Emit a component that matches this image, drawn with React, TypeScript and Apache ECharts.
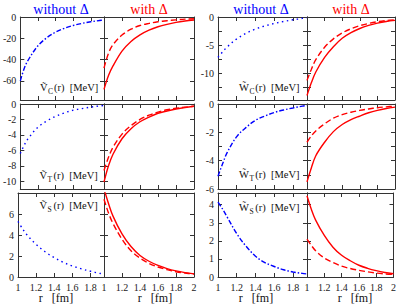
import React, { useEffect, useRef } from "react";
import * as echarts from "echarts";

// r grid [fm]
const rLeft = [1.0, 1.05, 1.1, 1.2, 1.3, 1.4, 1.5, 1.6, 1.7, 1.8, 1.9, 1.95];
const rRight = [1.0, 1.05, 1.1, 1.2, 1.3, 1.4, 1.5, 1.6, 1.7, 1.8, 1.9, 2.0];

// V potentials [MeV]
const VC_without = [-60, -47, -39, -27, -19.5, -14.2, -10.6, -8, -6, -4.5, -3.3, -2.8];
const VC_with_solid = [-68, -55, -46, -32, -23, -16.8, -12.4, -9.2, -6.9, -5.1, -3.8, -2.8];
const VC_with_dashed = [-48, -34, -26, -17, -11.5, -8, -6, -4.5, -3.5, -2.7, -2, -1.6];

const VT_without = [-6.4, -5.2, -4.3, -3.0, -2.2, -1.6, -1.15, -0.8, -0.6, -0.4, -0.25, -0.2];
const VT_with_solid = [-10.1, -8.0, -6.5, -4.5, -3.2, -2.3, -1.7, -1.2, -0.9, -0.65, -0.45, -0.3];
const VT_with_dashed = [-8.6, -6.9, -5.6, -3.9, -2.8, -2.0, -1.45, -1.05, -0.75, -0.55, -0.4, -0.3];

const VS_without = [5.3, 4.6, 4.0, 3.1, 2.4, 1.85, 1.4, 1.05, 0.78, 0.55, 0.35, 0.3];
const VS_with_solid = [8.4, 7.0, 5.8, 4.1, 2.9, 2.05, 1.5, 1.1, 0.8, 0.58, 0.42, 0.3];
const VS_with_dashed = [7.4, 6.1, 5.1, 3.6, 2.5, 1.8, 1.3, 0.95, 0.7, 0.5, 0.38, 0.28];

// W potentials [MeV]
const WC_without = [-7.2, -6.2, -5.3, -3.9, -2.9, -2.15, -1.6, -1.15, -0.8, -0.5, -0.25, -0.15];
const WC_with_solid = [-14, -11.7, -9.8, -7.2, -5.3, -3.8, -2.8, -2.05, -1.5, -1.1, -0.8, -0.6];
const WC_with_dashed = [-11.3, -9.3, -7.6, -5.4, -3.9, -2.85, -2.1, -1.55, -1.15, -0.85, -0.65, -0.5];

const WT_without = [-5.1, -4.2, -3.4, -2.3, -1.65, -1.15, -0.85, -0.6, -0.42, -0.28, -0.15, -0.11];
const WT_with_solid = [-5.5, -4.5, -3.65, -2.7, -1.95, -1.45, -1.1, -0.85, -0.62, -0.45, -0.32, -0.22];
const WT_with_dashed = [-2.7, -2.25, -1.9, -1.4, -1.0, -0.75, -0.58, -0.45, -0.35, -0.26, -0.2, -0.15];

const WS_without = [4.15, 3.75, 3.3, 2.4, 1.7, 1.15, 0.8, 0.58, 0.4, 0.28, 0.2, 0.17];
const WS_with_solid = [4.5, 3.75, 3.15, 2.3, 1.65, 1.2, 0.9, 0.65, 0.48, 0.35, 0.25, 0.18];
const WS_with_dashed = [2.1, 1.75, 1.45, 1.05, 0.8, 0.6, 0.47, 0.37, 0.29, 0.22, 0.17, 0.14];

// tick values
const xTicks = [1, 1.2, 1.4, 1.6, 1.8, 2];
const xLabelsLeft = [1, 1.2, 1.4, 1.6, 1.8];
const xLabelsRight = [1, 1.2, 1.4, 1.6, 1.8, 2];

const VC_ticks = [0, -20, -40, -60];
const VT_ticks = [0, -2, -4, -6, -8, -10];
const VS_ticks = [0, 2, 4, 6];
const WC_ticks = [0, -2.5, -5, -7.5, -10, -12.5];
const WC_labels = [0, -5, -10];
const WT_ticks = [0, -1, -2, -3, -4, -5, -6];
const WT_labels = [0, -2, -4, -6];
const WS_ticks = [0, 1, 2, 3, 4];

const FONT = "'Liberation Serif', 'DejaVu Serif', 'Times New Roman', serif";
const BLUE = "#0000ff";
const RED = "#ff0000";
const AX = "#333";

type Panel = {
  min: number;
  max: number;
  ticks: number[];
  labels: number[];
  without: number[];
  withSolid: number[];
  withDashed: number[];
  blueType: number[];
};

const DASHDOT = [5, 2, 1.5, 2];
const DOTTED = [1.5, 3.5];
const DASHED = [6, 3];

const groups: Panel[][] = [
  [
    { min: -78, max: 0, ticks: VC_ticks, labels: VC_ticks, without: VC_without, withSolid: VC_with_solid, withDashed: VC_with_dashed, blueType: DASHDOT },
    { min: -11, max: 0, ticks: VT_ticks, labels: VT_ticks, without: VT_without, withSolid: VT_with_solid, withDashed: VT_with_dashed, blueType: DOTTED },
    { min: 0, max: 8, ticks: VS_ticks, labels: VS_ticks, without: VS_without, withSolid: VS_with_solid, withDashed: VS_with_dashed, blueType: DOTTED },
  ],
  [
    { min: -14.8, max: 0, ticks: WC_ticks, labels: WC_labels, without: WC_without, withSolid: WC_with_solid, withDashed: WC_with_dashed, blueType: DOTTED },
    { min: -6, max: 0, ticks: WT_ticks, labels: WT_labels, without: WT_without, withSolid: WT_with_solid, withDashed: WT_with_dashed, blueType: DASHDOT },
    { min: 0, max: 4.65, ticks: WS_ticks, labels: WS_ticks, without: WS_without, withSolid: WS_with_solid, withDashed: WS_with_dashed, blueType: DASHDOT },
  ],
];

const colLeft = [18, 104, 218, 307];
const colRight = [104, 194, 307, 395];
const rowTop = [17, 104, 193];
const rowBottom = [100, 189, 277];

function zip(xs: number[], ys: number[]) {
  return ys.map((y, i) => [xs[i], y]);
}

function buildOption() {
  const grid: any[] = [];
  const xAxis: any[] = [];
  const yAxis: any[] = [];
  const series: any[] = [];
  const tickStyle = { inside: true, length: 4, lineStyle: { color: AX, width: 1 } };
  const lineStyle = { onZero: false, lineStyle: { color: AX, width: 1 } };
  const labelStyle = { color: "#222", fontSize: 10, fontFamily: FONT };

  for (let g = 0; g < 2; g++) {
    for (let k = 0; k < 3; k++) {
      const p = groups[g][k];
      for (let c = 0; c < 2; c++) {
        const ci = g * 2 + c;
        const gi = grid.length;
        grid.push({
          left: colLeft[ci],
          top: rowTop[k],
          width: colRight[ci] - colLeft[ci],
          height: rowBottom[k] - rowTop[k],
          containLabel: false,
        });
        const xMax = c === 0 ? 1.95 : 2;
        const showX = k === 2;
        xAxis.push({
          type: "value", gridIndex: gi, position: "bottom", min: 1, max: xMax,
          axisLine: { show: true, ...lineStyle },
          axisTick: { ...tickStyle, customValues: xTicks.filter((v) => v <= xMax) },
          axisLabel: { show: showX, margin: 5, ...labelStyle, customValues: c === 0 ? xLabelsLeft : xLabelsRight },
          splitLine: { show: false },
        });
        xAxis.push({
          type: "value", gridIndex: gi, position: "top", min: 1, max: xMax,
          axisLine: { show: true, ...lineStyle },
          axisTick: { ...tickStyle, customValues: xTicks.filter((v) => v <= xMax) },
          axisLabel: { show: false },
          splitLine: { show: false },
        });
        yAxis.push({
          type: "value", gridIndex: gi, position: "left", min: p.min, max: p.max,
          axisLine: { show: true, ...lineStyle },
          axisTick: { ...tickStyle, customValues: p.ticks },
          axisLabel: { show: c === 0, margin: 4, ...labelStyle, customValues: p.labels },
          splitLine: { show: false },
        });
        yAxis.push({
          type: "value", gridIndex: gi, position: "right", min: p.min, max: p.max,
          axisLine: { show: true, ...lineStyle },
          axisTick: { ...tickStyle, customValues: p.ticks },
          axisLabel: { show: false },
          splitLine: { show: false },
        });
        const xi = gi * 2;
        const yi = gi * 2;
        const common = {
          type: "line", xAxisIndex: xi, yAxisIndex: yi, showSymbol: false, symbol: "none",
          smooth: 0.35, clip: true, silent: true,
        };
        if (c === 0) {
          series.push({ ...common, data: zip(rLeft, p.without), lineStyle: { color: BLUE, width: 1.4, type: p.blueType } });
        } else {
          series.push({ ...common, data: zip(rRight, p.withSolid), lineStyle: { color: RED, width: 1.4, type: "solid" } });
          series.push({ ...common, data: zip(rRight, p.withDashed), lineStyle: { color: RED, width: 1.4, type: DASHED } });
        }
      }
    }
  }

  const txt = (x: number, y: number, text: string, size: number, fill: string, align = "left") => ({
    type: "text", x, y, silent: true,
    style: { text, fontSize: size, fontFamily: FONT, fill, textAlign: align, textVerticalAlign: "middle" },
  });

  const potLabel = (x: number, y: number, letter: string, sub: string) => {
    const w = letter === "W" ? 9.9 : 7.6;
    const glyph = letter === "W" ? "W\u0303" : "\u1E7C";
    return [
      txt(x, y, glyph, 10.5, "#111"),
      txt(x + w + 0.5, y + 4, sub, 7.5, "#111"),
      txt(x + w + 6.3, y, "(r)  [MeV]", 10.5, "#111"),
    ];
  };

  const graphic: any[] = [
    txt(61, 9, "without Δ", 14, BLUE, "center"),
    txt(149, 9, "with Δ", 14, RED, "center"),
    txt(261, 9, "without Δ", 14, BLUE, "center"),
    txt(351, 9, "with Δ", 14, RED, "center"),
    txt(56, 298, "r   [fm]", 12, "#111", "center"),
    txt(155, 298, "r   [fm]", 12, "#111", "center"),
    txt(256, 298, "r   [fm]", 12, "#111", "center"),
    txt(355, 298, "r   [fm]", 12, "#111", "center"),
    ...potLabel(40, 87, "V", "C"),
    ...potLabel(39.5, 175, "V", "T"),
    ...potLabel(39.5, 205, "V", "S"),
    ...potLabel(239, 87.5, "W", "C"),
    ...potLabel(239, 174, "W", "T"),
    ...potLabel(239, 207, "W", "S"),
  ];

  return { animation: false, backgroundColor: "#fff", grid, xAxis, yAxis, series, graphic };
}

export default function App() {
  const ref = useRef<HTMLDivElement>(null);
  useEffect(() => {
    if (!ref.current) return;
    const chart = echarts.init(ref.current, undefined, { renderer: "svg" });
    chart.setOption(buildOption() as any);
    return () => chart.dispose();
  }, []);
  return <div ref={ref} style={{ width: 399, height: 304, position: "absolute", left: 0, top: 0 }} />;
}
